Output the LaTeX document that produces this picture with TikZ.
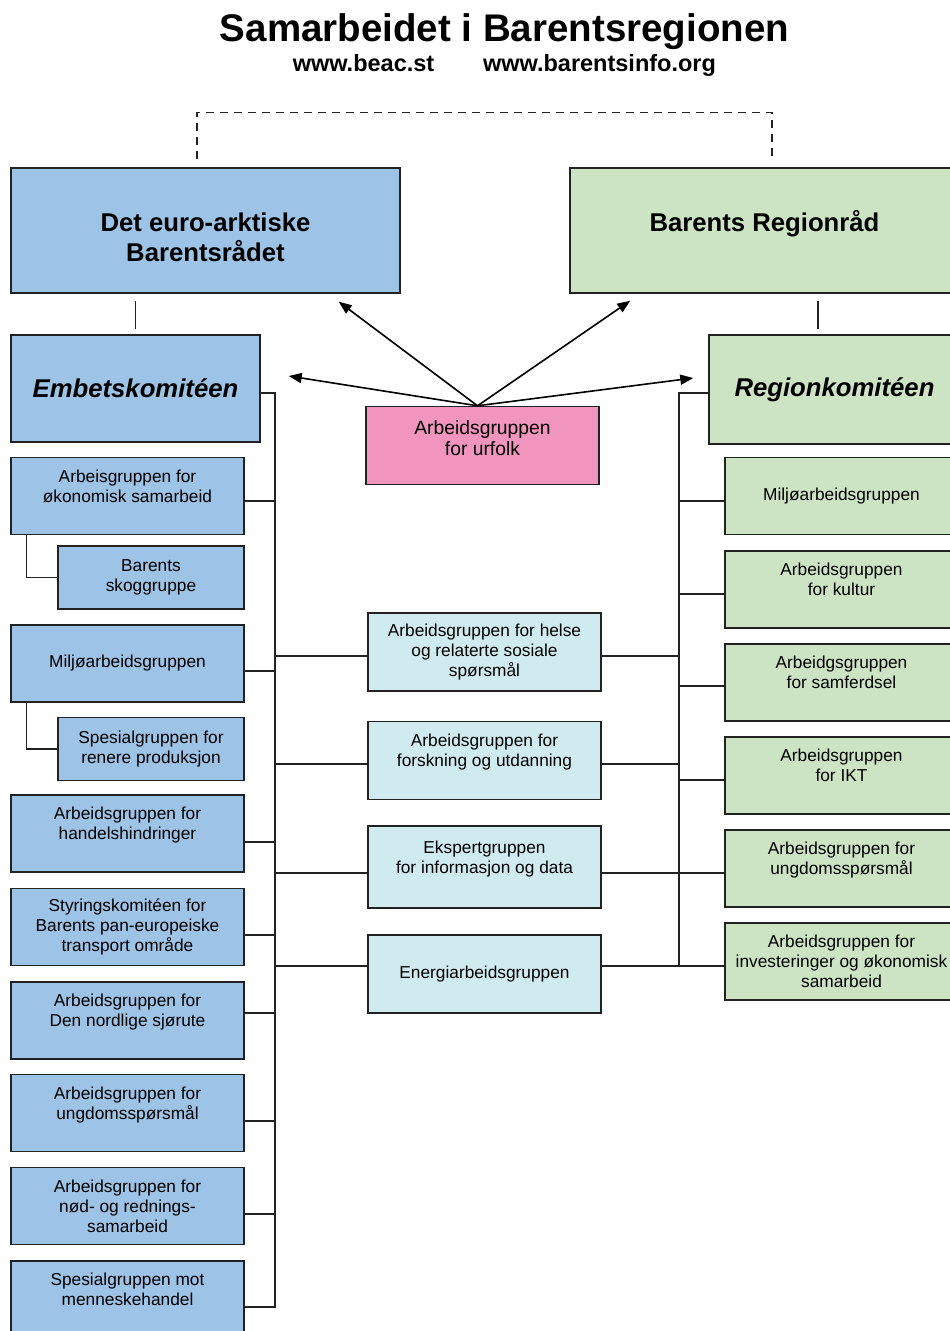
\documentclass[tikz,border=0pt]{standalone}
\usepackage{fontspec}
\setmainfont{Liberation Sans}
\usetikzlibrary{arrows.meta}

\definecolor{bluebox}{RGB}{157,195,230}
\definecolor{greenbox}{RGB}{204,228,196}
\definecolor{pinkbox}{RGB}{241,149,191}
\definecolor{cyanbox}{RGB}{208,235,240}
\definecolor{rim}{RGB}{34,34,34}

\begin{document}
\begin{tikzpicture}[x=1pt,y=-1pt,
	box/.style={draw=rim, line width=1.4pt, align=center, inner sep=0pt,
		font=\fontsize{17.3}{19.8}\selectfont},
	bigbox/.style={box, minimum width=389, minimum height=125},
	bigtext/.style={align=center, font=\bfseries\fontsize{25.7}{30}\selectfont},
	komtext/.style={font=\bfseries\itshape\fontsize{25.7}{30}\selectfont},
	barbox/.style={box, fill=bluebox, minimum width=233, minimum height=77},
	subbox/.style={box, fill=bluebox, minimum width=186, minimum height=63},
	fellesbox/.style={box, fill=cyanbox, minimum width=233, minimum height=78},
	regbox/.style={box, fill=greenbox, minimum width=233, minimum height=77},
	line/.style={draw=rim, line width=1.4pt},
	arrow/.style={line width=1.6pt, -{Triangle[length=13pt,width=10pt]}}]
	
	\useasboundingbox (0,0) rectangle (950,1331);
	\fill[white] (0,0) rectangle (950,1331);
	\clip (0,0) rectangle (950,1331);
	
	% heading
	\node[anchor=base, font=\bfseries\fontsize{38.5}{44}\selectfont] (title) at (504.5,41) {Samarbeidet i Barentsregionen};
	\node[anchor=base, font=\bfseries\fontsize{23.5}{27}\selectfont] (beac) at (363.5,71) {www.beac.st};
	\node[anchor=base, font=\bfseries\fontsize{23.5}{27}\selectfont] (binfo) at (599.5,71) {www.barentsinfo.org};
	
	% the two councils
	\node[bigbox, fill=bluebox, label={[bigtext, yshift=-6.5pt]center:Det euro-arktiske\\Barentsrådet}] (bear) at (205.5,230.5) {};
	\node[bigbox, fill=greenbox, label={[bigtext, yshift=6.5pt]center:Barents Regionråd}] (brr) at (764.5,230.5) {};
	\draw[line, dash pattern=on 8pt off 6pt] ([shift={(-8.5,-8)}]bear.north) -- ++(0,-47) -| ([shift={(7.5,-8)}]brr.north);
	
	\node[box, fill=bluebox, minimum width=249, minimum height=107, komtext] (emb) at (135.5,388.5) {Embetskomitéen};
	\node[box, fill=greenbox, minimum width=251, minimum height=109, komtext] (reg) at (834.5,389.5) {Regionkomitéen};
	\draw[line] ([yshift=5pt]emb.north) -- ([yshift=-7pt]emb.north |- bear.south);
	\draw[line] ([shift={(-16.5,-5)}]reg.north) -- ([shift={(-16.5,7)}]reg.north |- brr.south);
	
	\node[box, fill=pinkbox, minimum width=233, minimum height=78, font=\fontsize{19.3}{21.5}\selectfont] (urf) at (482.5,445.5) {Arbeidsgruppen\\for urfolk\\[-6pt]\mbox{}};
	\draw[arrow] ([xshift=-5pt]urf.north) -- ([shift={(-62,8)}]bear.south east);
	\draw[arrow] ([xshift=-5pt]urf.north) -- ([shift={(61,7)}]brr.south west);
	\draw[arrow] ([xshift=-5pt]urf.north) -- ([shift={(28,-12.5)}]emb.east);
	\draw[arrow] ([xshift=-5pt]urf.north) -- ([shift={(-15,-11.5)}]reg.west);
	
	% left column
	\node[barbox] (okon) at (127.5,496) {Arbeisgruppen for\\økonomisk samarbeid\\\mbox{}};
	\node[subbox] (skog) at (151,577.5) {Barents\\skoggruppe};
	\node[barbox] (miljoL) at (127.5,663.5) {Miljøarbeidsgruppen};
	\node[subbox] (renere) at (151,749) {Spesialgruppen for\\renere produksjon};
	\node[barbox] (handel) at (127.5,833.5) {Arbeidsgruppen for\\handelshindringer\\\mbox{}};
	\node[barbox] (styring) at (127.5,927) {Styringskomitéen for\\Barents pan-europeiske\\transport område};
	\node[barbox] (sjorute) at (127.5,1020.5) {Arbeidsgruppen for\\Den nordlige sjørute\\\mbox{}};
	\node[barbox] (ungdomL) at (127.5,1113) {Arbeidsgruppen for\\ungdomsspørsmål\\\mbox{}};
	\node[barbox] (redning) at (127.5,1206) {Arbeidsgruppen for\\nød- og rednings-\\samarbeid};
	\node[barbox] (menneske) at (127.5,1299.5) {Spesialgruppen mot\\menneskehandel\\\mbox{}};
	
	\coordinate (ltrunk) at (275,393);
	\draw[line] ([yshift=-4.5pt]emb.east) -| ([yshift=-7.5pt]menneske.east -| ltrunk) -- ([yshift=-7.5pt]menneske.east);
	\draw[line] ([yshift=-5pt]okon.east) -- ([yshift=-5pt]okon.east -| ltrunk);
	\draw[line] ([yshift=-7.5pt]miljoL.east) -- ([yshift=-7.5pt]miljoL.east -| ltrunk);
	\draw[line] ([yshift=-8.5pt]handel.east) -- ([yshift=-8.5pt]handel.east -| ltrunk);
	\draw[line] ([yshift=-8pt]styring.east) -- ([yshift=-8pt]styring.east -| ltrunk);
	\draw[line] ([yshift=7.5pt]sjorute.east) -- ([yshift=7.5pt]sjorute.east -| ltrunk);
	\draw[line] ([yshift=-8pt]ungdomL.east) -- ([yshift=-8pt]ungdomL.east -| ltrunk);
	\draw[line] ([yshift=-8pt]redning.east) -- ([yshift=-8pt]redning.east -| ltrunk);
	\draw[line] ([xshift=16pt]okon.south west) |- (skog.west);
	\draw[line] ([xshift=16pt]miljoL.south west) |- (renere.west);
	
	% joint groups
	\node[fellesbox] (helse) at (484.5,652) {Arbeidsgruppen for helse\\og relaterte sosiale\\spørsmål};
	\node[fellesbox] (forsk) at (484.5,760.5) {Arbeidsgruppen for\\forskning og utdanning\\\mbox{}};
	\node[fellesbox, minimum height=82] (data) at (484.5,867) {Ekspertgruppen\\for informasjon og data\\\mbox{}};
	\node[fellesbox] (energi) at (484.5,974) {Energiarbeidsgruppen};
	
	% right column
	\node[regbox] (miljoR) at (841.5,496) {Miljøarbeidsgruppen};
	\node[regbox] (kultur) at (841.5,589.5) {Arbeidsgruppen\\for kultur\\\mbox{}};
	\node[regbox] (samferdsel) at (841.5,682.5) {Arbeidgsgruppen\\for samferdsel\\\mbox{}};
	\node[regbox] (ikt) at (841.5,775.5) {Arbeidsgruppen\\for IKT\\\mbox{}};
	\node[regbox] (ungdomR) at (841.5,868.5) {Arbeidsgruppen for\\ungdomsspørsmål\\\mbox{}};
	\node[regbox] (invest) at (841.5,961.5) {Arbeidsgruppen for\\investeringer og økonomisk\\samarbeid};
	
	\coordinate (rtrunk) at (679,393);
	\draw[line] ([yshift=-3.5pt]reg.west) -| ([yshift=-4.5pt]invest.west -| rtrunk) -- ([yshift=-4.5pt]invest.west);
	\draw[line] ([yshift=-5pt]miljoR.west) -- ([yshift=-5pt]miljoR.west -| rtrunk);
	\draw[line] ([yshift=-4.5pt]kultur.west) -- ([yshift=-4.5pt]kultur.west -| rtrunk);
	\draw[line] ([yshift=-3.5pt]samferdsel.west) -- ([yshift=-3.5pt]samferdsel.west -| rtrunk);
	\draw[line] ([yshift=-4.5pt]ikt.west) -- ([yshift=-4.5pt]ikt.west -| rtrunk);
	\draw[line] ([yshift=-4.5pt]ungdomR.west) -- ([yshift=-4.5pt]ungdomR.west -| rtrunk);
	
	\draw[line] ([yshift=-4pt]helse.west -| ltrunk) -- ([yshift=-4pt]helse.west);
	\draw[line] ([yshift=-4pt]helse.east) -- ([yshift=-4pt]helse.east -| rtrunk);
	\draw[line] ([yshift=-3.5pt]forsk.west -| ltrunk) -- ([yshift=-3.5pt]forsk.west);
	\draw[line] ([yshift=-3.5pt]forsk.east) -- ([yshift=-3.5pt]forsk.east -| rtrunk);
	\draw[line] ([yshift=-6pt]data.west -| ltrunk) -- ([yshift=-6pt]data.west);
	\draw[line] ([yshift=-6pt]data.east) -- ([yshift=-6pt]data.east -| rtrunk);
	\draw[line] ([yshift=8pt]energi.west -| ltrunk) -- ([yshift=8pt]energi.west);
	\draw[line] ([yshift=8pt]energi.east) -- ([yshift=8pt]energi.east -| rtrunk);
	
\end{tikzpicture}
\end{document}
